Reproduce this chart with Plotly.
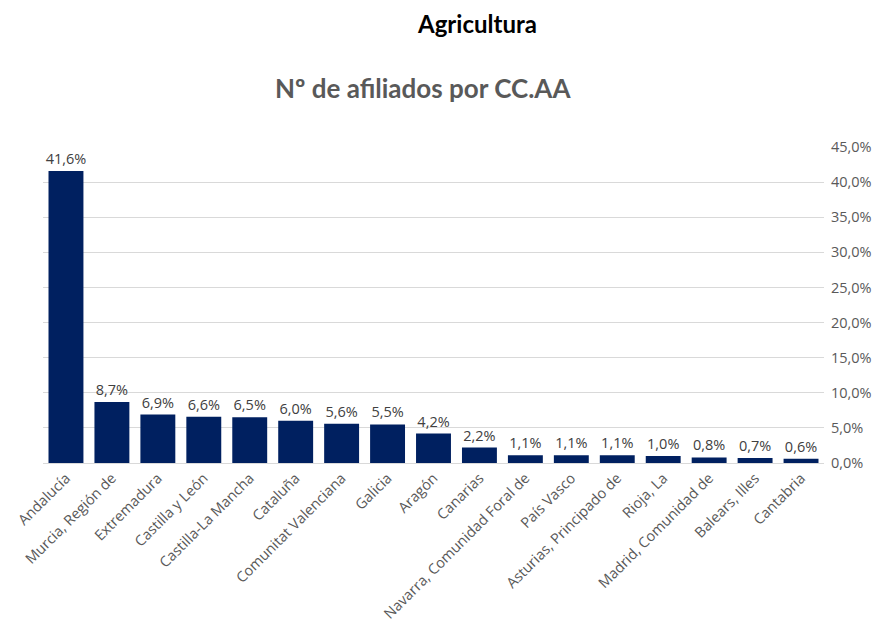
import plotly.graph_objects as go

categories = ["Andalucía", "Murcia, Región de", "Extremadura", "Castilla y León",
              "Castilla-La Mancha", "Cataluña", "Comunitat Valenciana", "Galicia",
              "Aragón", "Canarias", "Navarra, Comunidad Foral de", "País Vasco",
              "Asturias, Principado de", "Rioja, La", "Madrid, Comunidad de",
              "Balears, Illes", "Cantabria"]
values = [41.6, 8.7, 6.9, 6.6, 6.5, 6.0, 5.6, 5.5, 4.2, 2.2, 1.1, 1.1, 1.1, 1.0, 0.8, 0.7, 0.6]
y_ticks = [0, 5, 10, 15, 20, 25, 30, 35, 40, 45]

labels = [f"{v:.1f}".replace(".", ",") + "%" for v in values]
tick_text = [f"{t:.1f}".replace(".", ",") + "%" for t in y_ticks]

OFF = 8  # page body margin
W, H = 889 - OFF, 640 - OFF
L, R, T, B = 43 - OFF, 65, 147 - OFF, 177
pw, ph = W - L - R, H - T - B

fig = go.Figure(go.Bar(
    x=categories, y=values, text=labels, textposition="outside",
    constraintext="none",
    textfont=dict(family="Open Sans", size=14.5, color="#404040"),
    marker=dict(color="#002060", line=dict(width=0)),
    cliponaxis=False,
))

fig.update_layout(
    width=W, height=H,
    margin=dict(l=L, r=R, t=T, b=B, autoexpand=False),
    paper_bgcolor="white", plot_bgcolor="white",
    bargap=0.24,
    showlegend=False,
)
fig.add_annotation(text="<b>Agricultura</b>", xref="paper", yref="paper",
                   x=(477 - 43) / pw, y=1 + (147 - 23) / ph, showarrow=False,
                   xanchor="center", yanchor="middle",
                   font=dict(family="Lato", size=24, color="black"))
fig.add_annotation(text="<b>Nº de afiliados por CC.AA</b>", xref="paper", yref="paper",
                   x=(423 - 43) / pw, y=1 + (147 - 88) / ph, showarrow=False,
                   xanchor="center", yanchor="middle",
                   font=dict(family="Lato", size=26, color="#595959"))

fig.update_xaxes(tickangle=-45, tickfont=dict(family="Open Sans", size=14.5, color="#595959"),
                 showline=True, linecolor="#d9d9d9", linewidth=1, ticks="",
                 range=[-0.5, 16.5], automargin=False)
fig.update_yaxes(side="right", range=[0, 45], tickvals=y_ticks, ticktext=tick_text,
                 tickfont=dict(family="Open Sans", size=14.5, color="#595959"),
                 showgrid=True, gridcolor="#d9d9d9", gridwidth=1,
                 zeroline=False, showline=False, ticks="", ticklabelstandoff=6,
                 automargin=False)

fig.write_html("out.html")
